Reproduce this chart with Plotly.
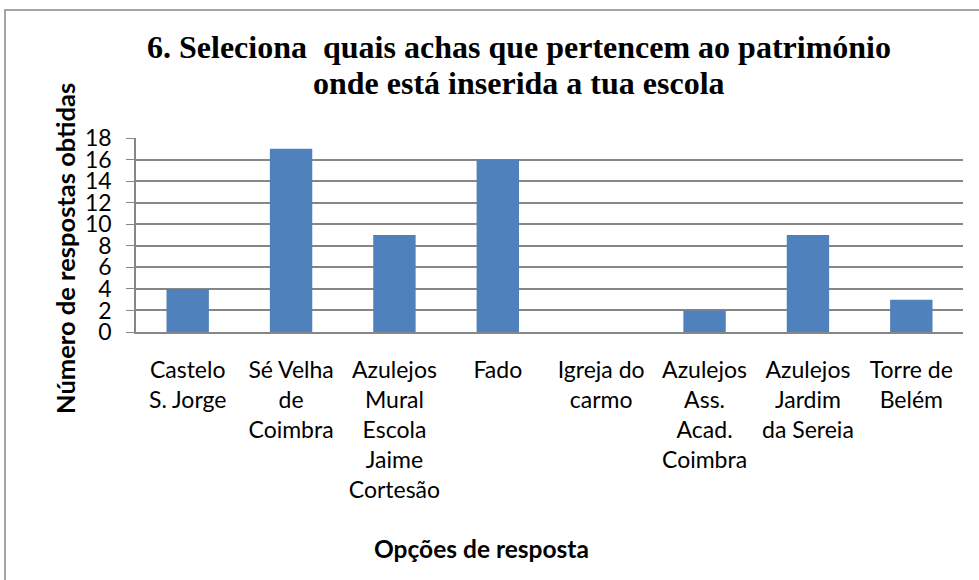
import plotly.graph_objects as go

categories = [
    "Castelo<br>S. Jorge",
    "Sé Velha<br>de<br>Coimbra",
    "Azulejos<br>Mural<br>Escola<br>Jaime<br>Cortesão",
    "Fado",
    "Igreja do<br>carmo",
    "Azulejos<br>Ass.<br>Acad.<br>Coimbra",
    "Azulejos<br>Jardim<br>da Sereia",
    "Torre de<br>Belém",
]
values = [4, 17, 9, 16, 0, 2, 9, 3]
y_ticks = [0, 2, 4, 6, 8, 10, 12, 14, 16, 18]

title_lines = [
    "6. Seleciona&nbsp; quais achas que pertencem ao património",
    "onde está inserida a tua escola",
]
y_title = "Número de respostas obtidas"
x_title = "Opções de resposta"

W, H = 979, 580
L, R, T, B = 136, 16, 138, 248
pw = W - L - R
ph = H - T - B

def px_x(x):
    return (x - L) / pw

def px_y(y):
    return (H - B - y) / ph

fig = go.Figure(
    go.Bar(
        x=categories,
        y=values,
        marker=dict(color="#4F81BD", line=dict(width=0)),
        hoverinfo="skip",
    )
)

fig.update_layout(
    width=W,
    height=H,
    margin=dict(l=L, r=R, t=T, b=B, autoexpand=False),
    paper_bgcolor="white",
    plot_bgcolor="white",
    bargap=0.59,
    showlegend=False,
    font=dict(family="Lato", size=23, color="black"),
)

fig.update_xaxes(
    showline=True,
    linecolor="#868686",
    linewidth=1.5,
    ticks="",
    tickangle=0,
    ticklabelstandoff=17,
    tickfont=dict(family="Lato", size=23),
)
fig.update_yaxes(
    range=[0, 18],
    tickvals=y_ticks,
    showgrid=True,
    gridcolor="#868686",
    gridwidth=1.5,
    showline=True,
    linecolor="#868686",
    linewidth=1.5,
    ticks="outside",
    ticklen=8,
    tickcolor="#868686",
    ticklabelstandoff=10,
    zeroline=False,
    tickfont=dict(family="Lato", size=23),
)

for line, yc in zip(title_lines, [47, 83]):
    fig.add_annotation(
        text="<b>" + line + "</b>",
        xref="paper", yref="paper",
        x=px_x(519), y=px_y(yc),
        xanchor="center", yanchor="middle",
        showarrow=False,
        font=dict(family="Liberation Serif", size=32, color="black"),
    )
fig.add_annotation(
    text="<b>" + y_title + "</b>",
    xref="paper", yref="paper",
    x=px_x(65), y=px_y(249),
    xanchor="center", yanchor="middle",
    textangle=-90,
    showarrow=False,
    font=dict(family="Lato", size=25.5, color="black"),
)
fig.add_annotation(
    text="<b>" + x_title + "</b>",
    xref="paper", yref="paper",
    x=px_x(481), y=px_y(548),
    xanchor="center", yanchor="middle",
    showarrow=False,
    font=dict(family="Lato", size=24.5, color="black"),
)
fig.add_shape(
    type="rect",
    xref="paper", yref="paper",
    x0=px_x(5), x1=px_x(1100),
    y0=px_y(700), y1=px_y(10),
    line=dict(color="#868686", width=1.5),
    fillcolor="rgba(0,0,0,0)",
    layer="below",
)

fig.write_html(
    "out.html",
    config={"displayModeBar": False},
    post_script="document.body.style.margin='0';",
)
